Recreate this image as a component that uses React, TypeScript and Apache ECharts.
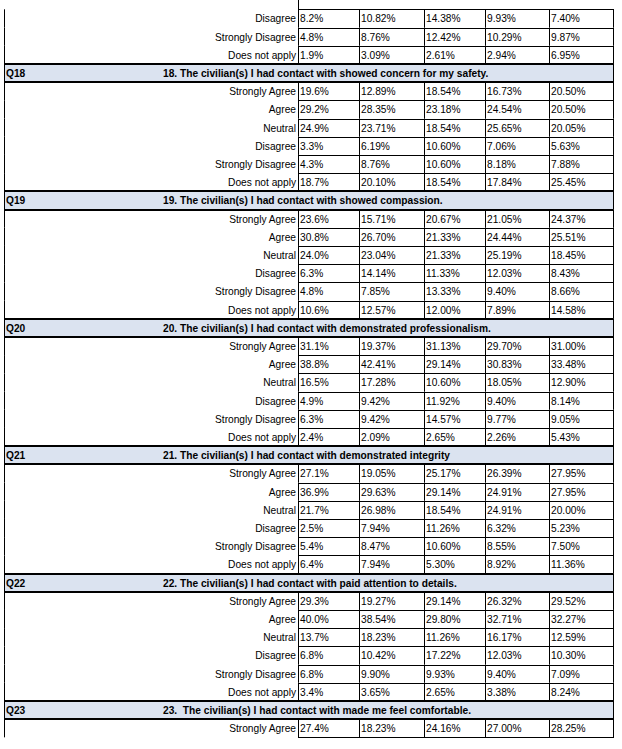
import React, { useEffect, useRef } from "react";
import * as echarts from "echarts";

const RESPONSES = ["Strongly Agree", "Agree", "Neutral", "Disagree", "Strongly Disagree", "Does not apply"];

const Q17_TAIL_LABELS = ["Disagree", "Strongly Disagree", "Does not apply"];
const Q17_TAIL = [
  ["8.2%", "10.82%", "14.38%", "9.93%", "7.40%"],
  ["4.8%", "8.76%", "12.42%", "10.29%", "9.87%"],
  ["1.9%", "3.09%", "2.61%", "2.94%", "6.95%"],
];

const Q18_TITLE = "18. The civilian(s) I had contact with showed concern for my safety.";
const Q18 = [
  ["19.6%", "12.89%", "18.54%", "16.73%", "20.50%"],
  ["29.2%", "28.35%", "23.18%", "24.54%", "20.50%"],
  ["24.9%", "23.71%", "18.54%", "25.65%", "20.05%"],
  ["3.3%", "6.19%", "10.60%", "7.06%", "5.63%"],
  ["4.3%", "8.76%", "10.60%", "8.18%", "7.88%"],
  ["18.7%", "20.10%", "18.54%", "17.84%", "25.45%"],
];

const Q19_TITLE = "19. The civilian(s) I had contact with showed compassion.";
const Q19 = [
  ["23.6%", "15.71%", "20.67%", "21.05%", "24.37%"],
  ["30.8%", "26.70%", "21.33%", "24.44%", "25.51%"],
  ["24.0%", "23.04%", "21.33%", "25.19%", "18.45%"],
  ["6.3%", "14.14%", "11.33%", "12.03%", "8.43%"],
  ["4.8%", "7.85%", "13.33%", "9.40%", "8.66%"],
  ["10.6%", "12.57%", "12.00%", "7.89%", "14.58%"],
];

const Q20_TITLE = "20. The civilian(s) I had contact with demonstrated professionalism.";
const Q20 = [
  ["31.1%", "19.37%", "31.13%", "29.70%", "31.00%"],
  ["38.8%", "42.41%", "29.14%", "30.83%", "33.48%"],
  ["16.5%", "17.28%", "10.60%", "18.05%", "12.90%"],
  ["4.9%", "9.42%", "11.92%", "9.40%", "8.14%"],
  ["6.3%", "9.42%", "14.57%", "9.77%", "9.05%"],
  ["2.4%", "2.09%", "2.65%", "2.26%", "5.43%"],
];

const Q21_TITLE = "21. The civilian(s) I had contact with demonstrated integrity";
const Q21 = [
  ["27.1%", "19.05%", "25.17%", "26.39%", "27.95%"],
  ["36.9%", "29.63%", "29.14%", "24.91%", "27.95%"],
  ["21.7%", "26.98%", "18.54%", "24.91%", "20.00%"],
  ["2.5%", "7.94%", "11.26%", "6.32%", "5.23%"],
  ["5.4%", "8.47%", "10.60%", "8.55%", "7.50%"],
  ["6.4%", "7.94%", "5.30%", "8.92%", "11.36%"],
];

const Q22_TITLE = "22. The civilian(s) I had contact with paid attention to details.";
const Q22 = [
  ["29.3%", "19.27%", "29.14%", "26.32%", "29.52%"],
  ["40.0%", "38.54%", "29.80%", "32.71%", "32.27%"],
  ["13.7%", "18.23%", "11.26%", "16.17%", "12.59%"],
  ["6.8%", "10.42%", "17.22%", "12.03%", "10.30%"],
  ["6.8%", "9.90%", "9.93%", "9.40%", "7.09%"],
  ["3.4%", "3.65%", "2.65%", "3.38%", "8.24%"],
];

const Q23_TITLE = "23.  The civilian(s) I had contact with made me feel comfortable.";
const Q23 = [["27.4%", "18.23%", "24.16%", "27.00%", "28.25%"]];

type Row =
  | { kind: "data"; label: string; values: string[] }
  | { kind: "header"; code: string; title: string };

function buildRows(): Row[] {
  const rows: Row[] = [];
  Q17_TAIL.forEach((v, i) => rows.push({ kind: "data", label: Q17_TAIL_LABELS[i], values: v }));
  const blocks: [string, string, string[][]][] = [
    ["Q18", Q18_TITLE, Q18],
    ["Q19", Q19_TITLE, Q19],
    ["Q20", Q20_TITLE, Q20],
    ["Q21", Q21_TITLE, Q21],
    ["Q22", Q22_TITLE, Q22],
    ["Q23", Q23_TITLE, Q23],
  ];
  blocks.forEach(([code, title, vals]) => {
    rows.push({ kind: "header", code, title });
    vals.forEach((v, i) => rows.push({ kind: "data", label: RESPONSES[i], values: v }));
  });
  return rows;
}

const ROWS = buildRows();

const TABLE_LEFT = 4;
const LABEL_RIGHT = 296;
const COL_EDGES = [298, 359, 424, 485, 549, 613];
const TITLE_X = 163;
const FONT = "Arial, 'Liberation Sans', Helvetica, sans-serif";
const FS = 10.2;
const HEADER_FILL = "#dbe3f0";

export default function App() {
  const ref = useRef<HTMLDivElement>(null);
  useEffect(() => {
    if (!ref.current) return;
    const chart = echarts.init(ref.current, null, { renderer: "svg" });
    const snap = (v: number) => Math.round(v) + 0.5;
    const renderItem = (params: any, api: any) => {
      const idx = api.value(1);
      const row = ROWS[idx];
      const top = api.coord([0, idx])[1];
      const bottom = api.coord([0, idx + 1])[1];
      const mid = (top + bottom) / 2;
      const X = (px: number) => api.coord([px, idx])[0];
      const children: any[] = [];
      const line = (x1: number, y1: number, x2: number, y2: number, w = 1) => ({
        type: "line",
        shape: { x1, y1, x2, y2 },
        style: { stroke: "#000", lineWidth: w },
      });
      if (row.kind === "header") {
        children.push({
          type: "rect",
          shape: { x: X(TABLE_LEFT), y: top, width: X(COL_EDGES[5]) - X(TABLE_LEFT), height: bottom - top },
          style: { fill: HEADER_FILL },
        });
        children.push({
          type: "text",
          style: { text: row.code, x: X(6), y: mid + 0.5, align: "left", verticalAlign: "middle", fontSize: FS, fontFamily: FONT, fontWeight: "bold", fill: "#000" },
        });
        children.push({
          type: "text",
          style: { text: row.title, x: X(TITLE_X), y: mid + 0.5, align: "left", verticalAlign: "middle", fontSize: FS, fontFamily: FONT, fontWeight: "bold", fill: "#000" },
        });
        children.push(line(X(TABLE_LEFT), Math.round(top), X(COL_EDGES[5]) + 0.5, Math.round(top), 2));
        children.push(line(X(TABLE_LEFT), Math.round(bottom), X(COL_EDGES[5]) + 0.5, Math.round(bottom), 2));
        children.push(line(snap(X(TABLE_LEFT)), top, snap(X(TABLE_LEFT)), bottom));
        children.push(line(snap(X(COL_EDGES[5])), top, snap(X(COL_EDGES[5])), bottom));
      } else {
        children.push({
          type: "text",
          style: { text: row.label, x: X(LABEL_RIGHT), y: mid + 0.5, align: "right", verticalAlign: "middle", fontSize: FS, fontFamily: FONT, fill: "#000" },
        });
        row.values.forEach((v, c) => {
          children.push({
            type: "text",
            style: { text: v, x: X(COL_EDGES[c] + 2), y: mid + 0.5, align: "left", verticalAlign: "middle", fontSize: FS, fontFamily: FONT, fill: "#000" },
          });
        });
        children.push(line(X(COL_EDGES[0]), snap(top), X(COL_EDGES[5]) + 1, snap(top)));
        children.push(line(X(COL_EDGES[0]), snap(bottom), X(COL_EDGES[5]) + 1, snap(bottom)));
        children.push(line(snap(X(TABLE_LEFT)), top, snap(X(TABLE_LEFT)), bottom));
        COL_EDGES.forEach((e) => children.push(line(snap(X(e)), top, snap(X(e)), bottom)));
      }
      return { type: "group", children };
    };

    chart.setOption({
      animation: false,
      backgroundColor: "#ffffff",
      grid: { left: 0, right: 0, top: 0, bottom: 0 },
      xAxis: { type: "value", min: 0, max: 622, show: false },
      yAxis: { type: "value", min: -0.511, max: 40.64, inverse: true, show: false },
      graphic: [
        {
          type: "line",
          shape: { x1: 298.5, y1: 0, x2: 298.5, y2: 9 },
          style: { stroke: "#000", lineWidth: 1 },
        },
      ],
      series: [
        {
          type: "custom",
          renderItem,
          clip: false,
          silent: true,
          encode: { x: 0, y: 1 },
          data: ROWS.map((_, i) => [0, i]),
        },
      ],
    });
    return () => chart.dispose();
  }, []);
  return (
    <div
      ref={ref}
      style={{ position: "absolute", left: 0, top: 0, width: 622, height: 749, background: "#fff" }}
    />
  );
}
